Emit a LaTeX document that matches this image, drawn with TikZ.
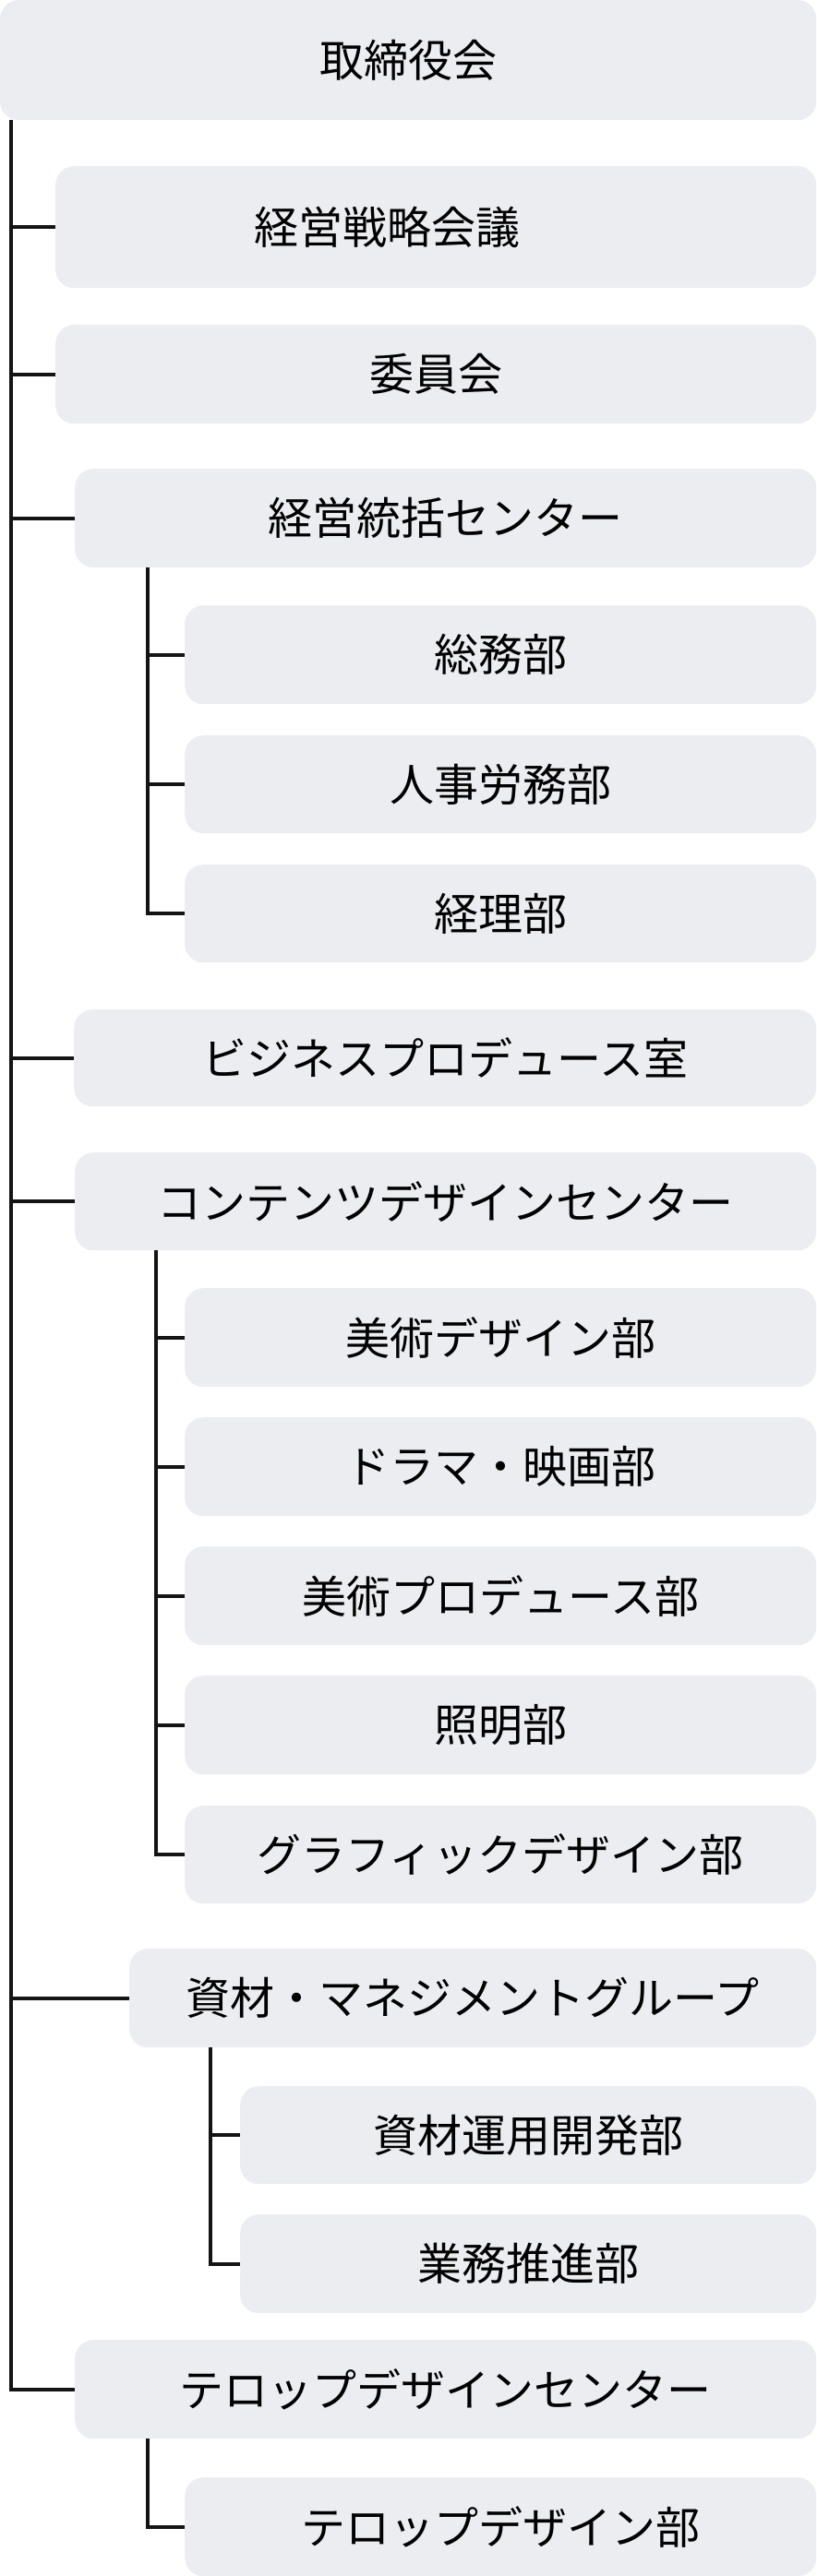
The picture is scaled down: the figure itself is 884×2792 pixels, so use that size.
\documentclass[tikz,border=0pt]{standalone}
\usepackage{fontspec}
\setmainfont{Noto Sans CJK JP}
\definecolor{boxfill}{HTML}{ECEDF0}
\definecolor{linecol}{HTML}{141414}
\newcommand\bx[5]{\node[box, minimum width={(884-#2)*1pt}, minimum height={(#4-#3)*1pt}] (#1) at (#2,#3) {#5};}
\begin{document}
\begin{tikzpicture}[x=1pt,y=-1pt,
  box/.style={anchor=north west, fill=boxfill, rounded corners=20pt, inner sep=0pt,
    font=\fontsize{48}{57}\selectfont, text=black},
  conn/.style={draw=linecol, line width=4pt}]
\useasboundingbox (0,0) rectangle (884,2792);
\bx{top}{0}{0}{130}{取締役会}
\bx{senryaku}{60}{180}{312}{経営戦略会議\hspace*{106pt}\null}
\bx{iin}{60}{352}{459}{委員会}
\bx{keiei}{81}{508}{615}{経営統括センター}
\bx{somu}{200}{656}{763}{総務部}
\bx{jinji}{200}{797}{903}{人事労務部}
\bx{keiri}{200}{937}{1043}{経理部}
\bx{biz}{80}{1094}{1199}{ビジネスプロデュース室}
\bx{content}{81}{1249}{1355}{コンテンツデザインセンター}
\bx{bijutsu}{200}{1396}{1503}{美術デザイン部}
\bx{drama}{200}{1536}{1643}{ドラマ・映画部}
\bx{bpro}{200}{1676}{1783}{美術プロデュース部}
\bx{shomei}{200}{1816}{1923}{照明部}
\bx{graphic}{200}{1957}{2063}{グラフィックデザイン部}
\bx{shizai}{140}{2112}{2219}{資材・マネジメントグループ}
\bx{unyo}{260}{2261}{2367}{資材運用開発部}
\bx{gyomu}{260}{2400}{2507}{業務推進部}
\bx{telop}{81}{2536}{2643}{テロップデザインセンター}
\bx{telopbu}{200}{2685}{2792}{テロップデザイン部}
% main spine
\coordinate (s0) at ([xshift=12pt]top.south west);
\foreach \n in {senryaku,iin,keiei,biz,content,shizai,telop}
  \draw[conn] (s0) |- (\n.west);
% sub spines
\coordinate (k0) at ([xshift=79pt]keiei.south west);
\foreach \n in {somu,jinji,keiri}
  \draw[conn] (k0) |- (\n.west);
\coordinate (c0) at ([xshift=88pt]content.south west);
\foreach \n in {bijutsu,drama,bpro,shomei,graphic}
  \draw[conn] (c0) |- (\n.west);
\coordinate (m0) at ([xshift=88pt]shizai.south west);
\foreach \n in {unyo,gyomu}
  \draw[conn] (m0) |- (\n.west);
\coordinate (t0) at ([xshift=79pt]telop.south west);
\draw[conn] (t0) |- (telopbu.west);
\end{tikzpicture}
\end{document}
